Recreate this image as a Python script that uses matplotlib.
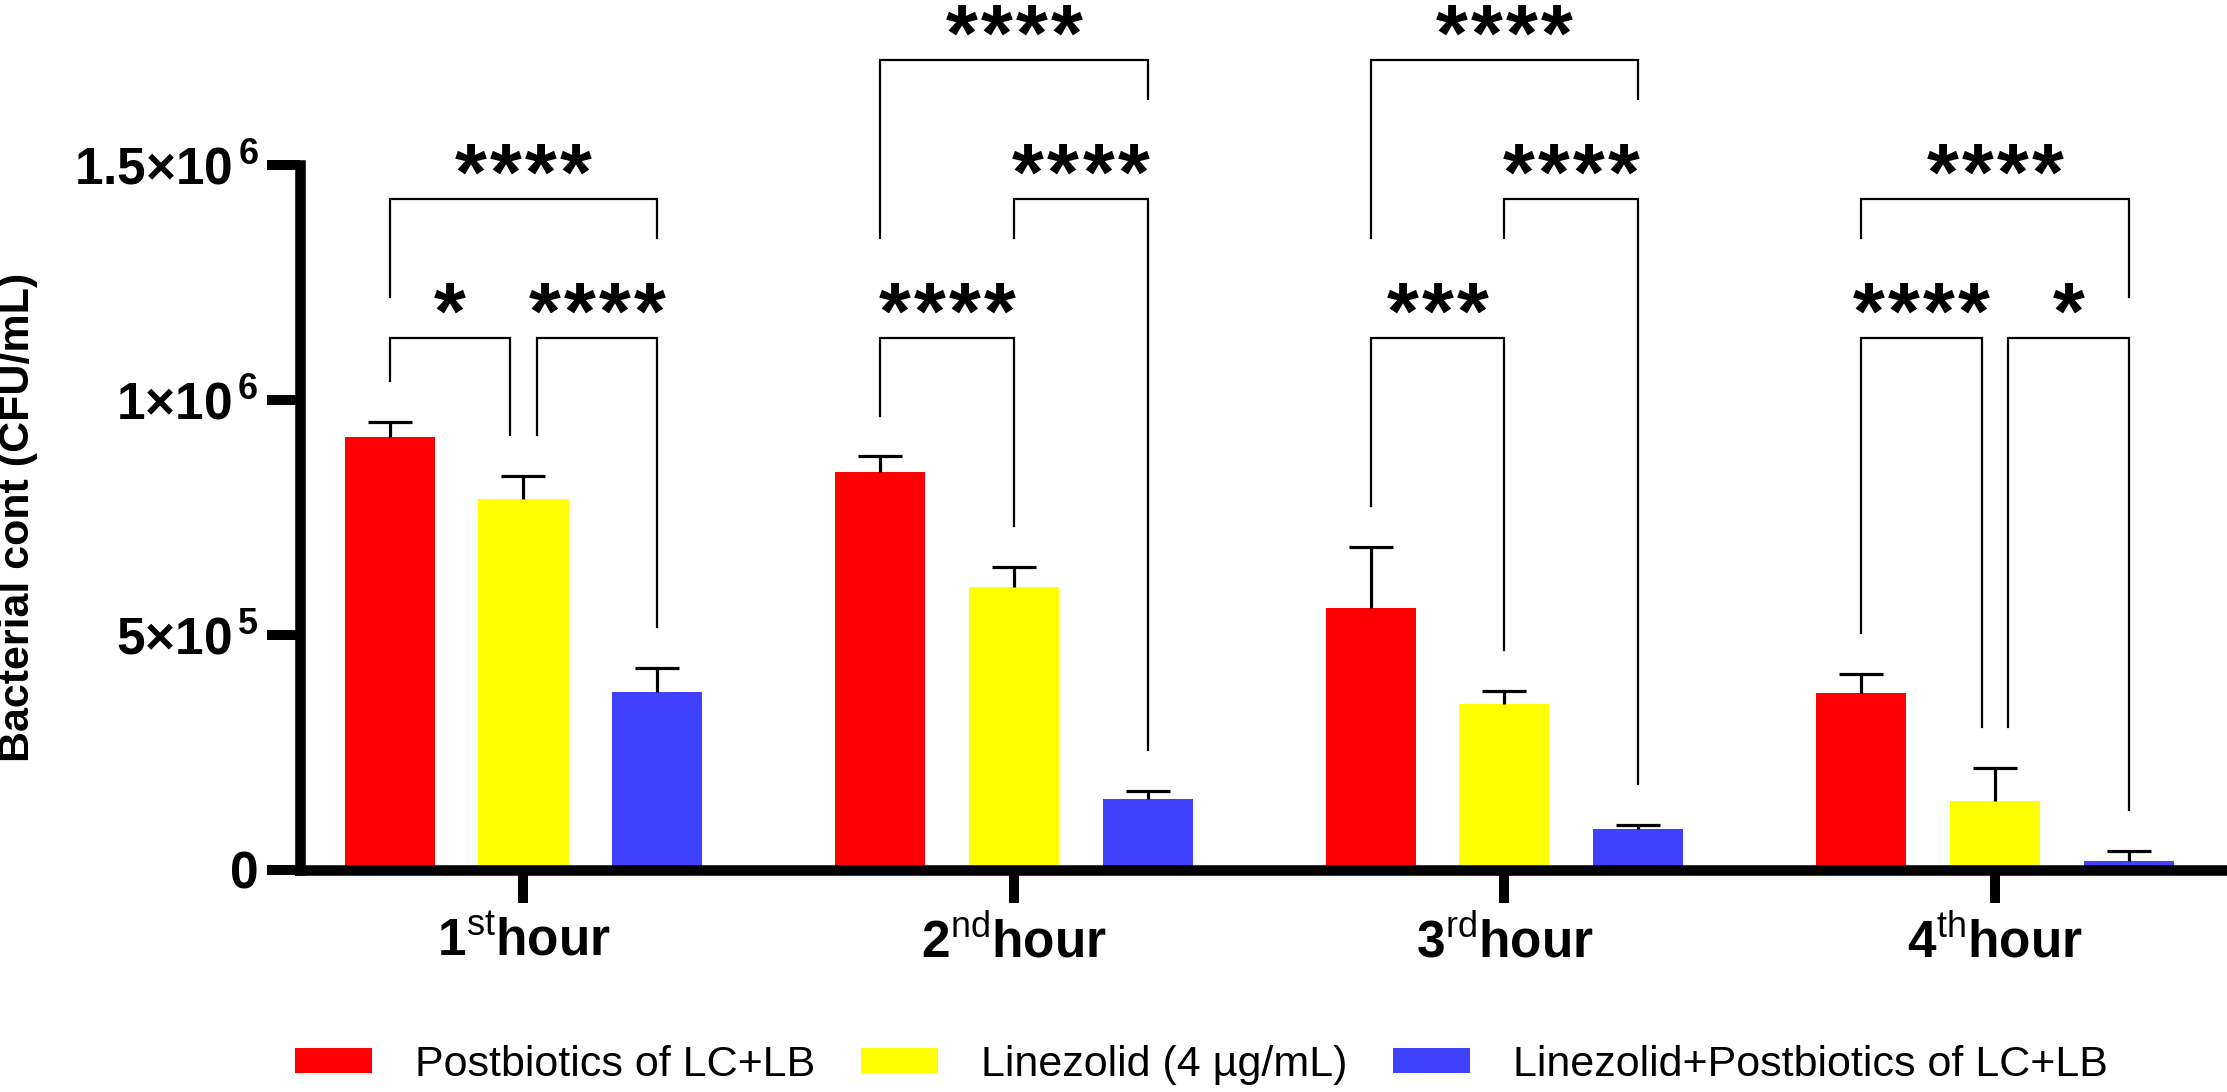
import matplotlib
matplotlib.use('Agg')
import matplotlib.pyplot as plt
import numpy as np

plt.rcParams['font.family'] = ['Liberation Sans', 'DejaVu Sans']
plt.rcParams['mathtext.fontset'] = 'custom'
plt.rcParams['mathtext.rm'] = 'Liberation Sans'
plt.rcParams['mathtext.bf'] = 'Liberation Sans:bold'
plt.rcParams['mathtext.it'] = 'Liberation Sans:italic'

# ---------------- data ----------------
group_labels = [r'$\mathbf{1}^{\mathrm{st}}\mathbf{hour}$',
                r'$\mathbf{2}^{\mathrm{nd}}\mathbf{hour}$',
                r'$\mathbf{3}^{\mathrm{rd}}\mathbf{hour}$',
                r'$\mathbf{4}^{\mathrm{th}}\mathbf{hour}$']
series_names = ['Postbiotics of LC+LB', 'Linezolid (4 µg/mL)',
                'Linezolid+Postbiotics of LC+LB']
colors = ['#FF0000', '#FFFF00', '#4040FF']

postbiotics = [922e3, 846e3, 558e3, 377e3]
postbiotics_err = [32e3, 34e3, 130e3, 41e3]
linezolid = [790e3, 603e3, 354e3, 147e3]
linezolid_err = [48e3, 42e3, 27e3, 70e3]
combo = [378e3, 150e3, 87e3, 19e3]
combo_err = [52e3, 19e3, 8e3, 21e3]

yticks = [0, 5e5, 1e6, 1.5e6]
ytick_labels = ['0', r'$\mathbf{5{×}10^{\,5}}$', r'$\mathbf{1{×}10^{\,6}}$',
                r'$\mathbf{1.5{×}10^{\,6}}$']
ylabel = 'Bacterial cont (CFU/mL)'

# significance comparisons: (group, bar_a, bar_b, label, level index)
comparisons = [
    (0, 0, 1, '*', 0), (0, 1, 2, '****', 0), (0, 0, 2, '****', 1),
    (1, 0, 1, '****', 0), (1, 1, 2, '****', 1), (1, 0, 2, '****', 2),
    (2, 0, 1, '***', 0), (2, 1, 2, '****', 1), (2, 0, 2, '****', 2),
    (3, 0, 1, '****', 0), (3, 1, 2, '*', 0), (3, 0, 2, '****', 1),
]
levels = [1.132e6, 1.428e6, 1.724e6]

# ---------------- figure ----------------
fig = plt.figure(figsize=(22.27, 10.92), dpi=100)
ax = fig.add_axes([0.1347, 0.2033, 0.8653, 0.6456])

values = [postbiotics, linezolid, combo]
errors = [postbiotics_err, linezolid_err, combo_err]
x = np.arange(len(group_labels))
offset = 0.2722
width = 0.1835
offsets = [-offset, 0, offset]

for k in range(3):
    ax.bar(x + offsets[k], values[k], width, color=colors[k], linewidth=0,
           label=series_names[k], zorder=2)
    _, caps, _ = ax.errorbar(x + offsets[k], values[k],
                             yerr=[np.zeros(len(x)), errors[k]], fmt='none',
                             ecolor='black', elinewidth=2.3, capsize=16,
                             capthick=2.3, zorder=3)
    # keep only the upper caps
    for c in caps:
        if np.allclose(c.get_ydata(), values[k]):
            c.set_visible(False)

ax.set_xlim(-0.4557, 3.473)
ax.set_ylim(0, 1.5e6)
ax.set_yticks(yticks)
ax.set_yticklabels(ytick_labels, fontsize=37, fontweight='bold')
ax.set_xticks(x)
ax.set_xticklabels(group_labels, fontsize=37)
ax.tick_params(axis='both', length=24, width=7.2, direction='out')
ax.tick_params(axis='y', pad=6)
ax.tick_params(axis='x', pad=10)
for s in ['top', 'right']:
    ax.spines[s].set_visible(False)
for s in ['left', 'bottom']:
    ax.spines[s].set_linewidth(7.6)
    ax.spines[s].set_capstyle('projecting')

ax.set_ylabel(ylabel, fontsize=31, fontweight='bold', va='center')
ax.yaxis.set_label_coords(-0.1463, 0.5)

# ---------------- significance brackets ----------------
gap = 87e3
text_top = 126e3
shift = 0.0275
pad_hw = 0.05
star_pitch = 0.0714
tops = [[values[k][g] + errors[k][g] for k in range(3)] for g in range(len(x))]

drawn = []  # (group, level, xl, xr, xc, hw, y)
order = sorted(range(len(comparisons)), key=lambda i: comparisons[i][4])
for i in order:
    g, a, b, lab, lv = comparisons[i]
    y = levels[lv]
    xl = g + offsets[a]
    xr = g + offsets[b]
    for j, (g2, a2, b2, _, lv2) in enumerate(comparisons):
        if j == i or g2 != g or lv2 != lv:
            continue
        if b in (a2, b2):
            xr -= shift
        if a in (a2, b2):
            xl += shift

    def leg_bottom(xp):
        obst = []
        for k in range(3):
            if abs(xp - (g + offsets[k])) <= width / 2:
                obst.append(tops[g][k])
        for (gd, lvd, dxl, dxr, dxc, dhw, dy) in drawn:
            if gd != g or lvd >= lv:
                continue
            if dxl - 1e-6 <= xp <= dxr + 1e-6:
                obst.append(dy)
            if abs(xp - dxc) <= dhw:
                obst.append(dy + text_top)
        return max(obst) + gap

    bl = leg_bottom(xl)
    br = leg_bottom(xr)
    ax.plot([xl, xl, xr, xr], [bl, y, y, br], color='black', lw=1.6,
            solid_joinstyle='miter', clip_on=False, zorder=4)
    xc = (xl + xr) / 2
    n = len(lab)
    for s in range(n):
        xs = xc + (s - (n - 1) / 2) * star_pitch
        ax.text(xs, y - 2e3, '*', ha='center', va='baseline', fontsize=59,
                fontweight='bold', clip_on=False, zorder=5)
    drawn.append((g, lv, xl, xr, xc, n * 0.0357 + pad_hw, y))

# ---------------- legend ----------------
fig.legend(loc='center', bbox_to_anchor=(0.5395, 0.0247), ncol=3,
           frameon=False, fontsize=31, handlelength=1.79, handleheight=0.51,
           handletextpad=1.0, columnspacing=1.05, borderpad=0,
           borderaxespad=0)

fig.savefig('out.png', dpi=100)
